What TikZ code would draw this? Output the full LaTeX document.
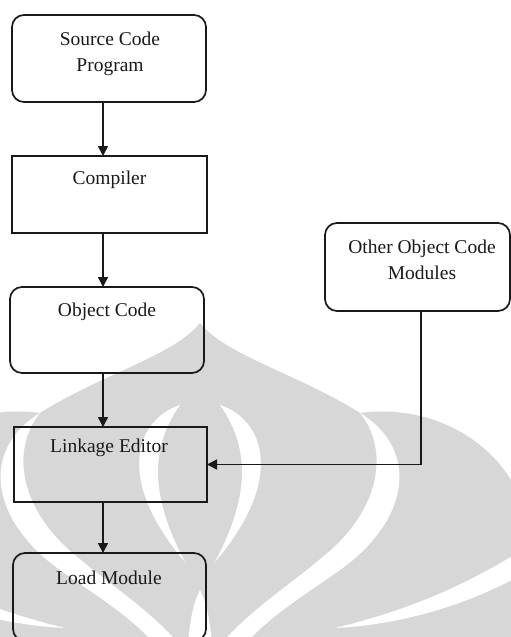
\documentclass[tikz,border=0pt]{standalone}
\usepackage{fontspec}
\setmainfont{Liberation Serif}
\usetikzlibrary{arrows.meta,calc}
\definecolor{wmgrey}{RGB}{215,215,215}
\definecolor{ink}{RGB}{25,25,25}
\begin{document}
\begin{tikzpicture}[x=1pt,y=-1pt,
  boxbase/.style={draw=ink, line width=1.7pt, inner sep=0pt, outer sep=0pt},
  sqbox/.style={boxbase},
  rbox/.style={boxbase, rounded corners=12pt},
  lbl/.style={text=ink, font=\fontsize{19.5}{26}\selectfont, align=center, inner sep=0pt},
  arr/.style={draw=ink, line width=1.7pt, -{Triangle[length=10pt,width=10pt]}},
]
\useasboundingbox (0,0) rectangle (511,637);
\clip (0,0) rectangle (511,637);
% watermark
\fill[wmgrey] (-111,480) .. controls (-80,430) and (-20,405) .. (40,413)
  .. controls (100,375) and (175,355) .. (200,323)
  .. controls (225,355) and (300,375) .. (360,413)
  .. controls (420,405) and (480,430) .. (511,480) -- (530,660) -- (-111,660) -- cycle;
\fill[white] (360,413) .. controls (420,450) and (410,520) .. (340,570)
  .. controls (300,598) and (265,620) .. (245,645) -- (220,645)
  .. controls (250,610) and (290,585) .. (325,555)
  .. controls (380,510) and (390,450) .. (360,413) -- cycle;
\fill[white] (40,413) .. controls (-20,450) and (-10,520) .. (60,570)
  .. controls (100,598) and (135,620) .. (155,645) -- (180,645)
  .. controls (150,610) and (110,585) .. (75,555)
  .. controls (20,510) and (10,450) .. (40,413) -- cycle;
\fill[white] (220,405) .. controls (265,420) and (285,480) .. (215,562)
  .. controls (248,500) and (252,450) .. (220,405) -- cycle;
\fill[white] (180,405) .. controls (135,420) and (115,480) .. (185,562)
  .. controls (152,500) and (148,450) .. (180,405) -- cycle;
\fill[white] (188,645) .. controls (190,615) and (195,600) .. (200,590)
  .. controls (205,600) and (210,615) .. (212,645) -- cycle;
\fill[white] (530,545) .. controls (460,590) and (400,612) .. (335,628)
  .. controls (400,625) and (470,605) .. (530,570) -- cycle;
\fill[white] (-130,545) .. controls (-60,590) and (0,612) .. (65,628)
  .. controls (0,625) and (-70,605) .. (-130,570) -- cycle;
% boxes
\node[rbox, minimum width=194pt, minimum height=87pt] (b1) at (109,58.5) {};
\node[sqbox, minimum width=195pt, minimum height=77pt] (b2) at (109.5,194.5) {};
\node[rbox, minimum width=194pt, minimum height=86pt] (b3) at (107,330) {};
\node[sqbox, minimum width=193pt, minimum height=75pt] (b4) at (110.5,464.5) {};
\node[rbox, minimum width=193pt, minimum height=88pt] (b5) at (109.5,597) {};
\node[rbox, minimum width=185pt, minimum height=88pt] (b6) at (417.5,267) {};
% labels
\node[lbl] (t1) at (110,54) {Source Code\\Program};
\node[lbl] (t2) at (109.5,180) {Compiler};
\node[lbl] (t3) at (107,312) {Object Code};
\node[lbl] (t4) at (109,448) {Linkage Editor};
\node[lbl] (t5) at (109,578) {Load Module};
\node[lbl] (t6) at (422,260) {Other Object Code\\Modules};
% connectors
\coordinate (ax) at (103,0);
\coordinate (bx) at (421,0);
\draw[arr] (b1.south -| ax) -- (b2.north -| ax);
\draw[arr] (b2.south -| ax) -- (b3.north -| ax);
\draw[arr] (b3.south -| ax) -- (b4.north -| ax);
\draw[arr] (b4.south -| ax) -- (b5.north -| ax);
\draw[arr] (b6.south -| bx) |- (b4.east);
\end{tikzpicture}
\end{document}
